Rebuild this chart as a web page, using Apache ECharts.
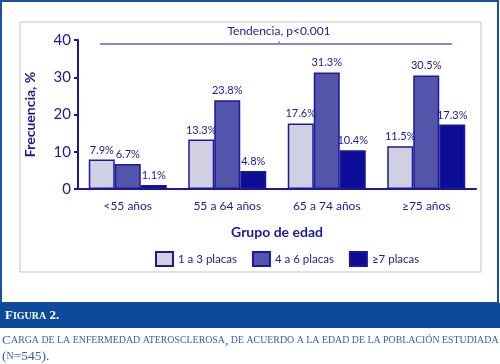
<!DOCTYPE html>
<html>
<head>
<meta charset="utf-8">
<script src="https://cdn.jsdelivr.net/npm/echarts@6/dist/echarts.min.js"></script>
<style>
  html, body { margin: 0; padding: 0; background: #fff; }
  #chart { width: 500px; height: 364px; }
</style>
</head>
<body>
<div id="chart"></div>
<script>
  var categories = ['<55 años', '55 a 64 años', '65 a 74 años', '≥75 años'];
  var seriesNames = ['1 a 3 placas', '4 a 6 placas', '≥7 placas'];
  var placas1a3 = [7.9, 13.3, 17.6, 11.5];
  var placas4a6 = [6.7, 23.8, 31.3, 30.5];
  var placas7 = [1.1, 4.8, 10.4, 17.3];
  var yTicks = [0, 10, 20, 30, 40];

  var txt = '#1a1a9a';
  var colors = ['#d0d0e2', '#5454aa', '#0c0c96'];
  var font = 'Lato, "Open Sans", sans-serif';
  var serif = '"Liberation Serif", "DejaVu Serif", serif';

  var myChart = echarts.init(document.getElementById('chart'));

  function bar(name, data, i) {
    return {
      name: name,
      type: 'bar',
      data: data,
      barWidth: 26,
      barGap: '0%',
      itemStyle: {
        color: colors[i],
        borderColor: txt,
        borderWidth: 1.5
      },
      label: {
        show: true,
        position: 'top',
        distance: 4,
        color: txt,
        fontFamily: font,
        fontSize: 11,
        formatter: '{c}%'
      }
    }
  }

  var option = {
    animation: false,
    grid: {
      left: 78,
      right: 24,
      top: 40,
      bottom: 175
    },
    legend: {
      data: seriesNames,
      icon: 'rect',
      left: 150,
      top: 246,
      itemWidth: 17,
      itemHeight: 14,
      itemGap: 15,
      textStyle: { color: txt, fontFamily: font, fontSize: 11.5 }
    },
    xAxis: {
      type: 'category',
      data: categories,
      name: 'Grupo de edad',
      nameLocation: 'middle',
      nameGap: 36,
      nameTextStyle: { color: txt, fontFamily: font, fontSize: 14, fontWeight: 'bold' },
      axisLine: { lineStyle: { color: txt, width: 2 } },
      axisTick: { show: false },
      axisLabel: { color: txt, fontFamily: font, fontSize: 12, margin: 11 }
    },
    yAxis: {
      type: 'value',
      min: yTicks[0],
      max: yTicks[yTicks.length - 1],
      interval: 10,
      name: 'Frecuencia, %',
      nameLocation: 'middle',
      nameGap: 41,
      nameTextStyle: { color: txt, fontFamily: font, fontSize: 14, fontWeight: 'bold' },
      axisLine: { show: true, lineStyle: { color: txt, width: 2 } },
      axisTick: { show: true, length: 4, lineStyle: { color: txt, width: 2 } },
      axisLabel: { color: txt, fontFamily: font, fontSize: 15, margin: 7 },
      splitLine: { show: false }
    },
    graphic: [
      // marco exterior
      { type: 'rect', shape: { x: 1, y: 1, width: 497, height: 302 }, style: { fill: 'none', stroke: '#1f4e9c', lineWidth: 2 }, silent: true },
      // recuadro gris
      { type: 'rect', shape: { x: 20, y: 22, width: 461, height: 250 }, style: { fill: 'none', stroke: '#c4c4c4', lineWidth: 1 }, silent: true },
      // tendencia
      { type: 'line', shape: { x1: 100, y1: 44, x2: 452, y2: 44 }, style: { stroke: '#6262c4', lineWidth: 1.5 }, silent: true },
      { type: 'line', shape: { x1: 279, y1: 41, x2: 279, y2: 44 }, style: { stroke: '#6262c4', lineWidth: 1 }, silent: true },
      { type: 'text', x: 279, y: 31, style: { text: 'Tendencia, p<0.001', fill: txt, font: '12px ' + font, align: 'center', verticalAlign: 'middle' }, silent: true },
      // banda de figura
      { type: 'rect', shape: { x: 0, y: 303, width: 500, height: 25 }, style: { fill: '#0d4a9c' }, silent: true },
      {
        type: 'text', x: 5, y: 316,
        style: {
          text: '{a|F}{b|IGURA}{a| 2.}',
          verticalAlign: 'middle',
          rich: {
            a: { fill: '#fff', fontFamily: serif, fontSize: 13, fontWeight: 'bold' },
            b: { fill: '#fff', fontFamily: serif, fontSize: 10, fontWeight: 'bold' }
          }
        },
        silent: true
      },
      {
        type: 'text', x: 2, y: 340,
        style: {
          text: '{a|C}{b|ARGA DE LA ENFERMEDAD ATEROSCLEROSA}{a|,}{b| DE ACUERDO A LA EDAD DE LA POBLACIÓN ESTUDIADA}',
          verticalAlign: 'middle',
          rich: {
            a: { fill: '#3a5fa4', fontFamily: serif, fontSize: 13.5 },
            b: { fill: '#3a5fa4', fontFamily: serif, fontSize: 9.9 }
          }
        },
        silent: true
      },
      {
        type: 'text', x: 2, y: 356,
        style: {
          text: '{a|(}{b|N}{a|=545).}',
          verticalAlign: 'middle',
          rich: {
            a: { fill: '#3a5fa4', fontFamily: serif, fontSize: 13.5 },
            b: { fill: '#3a5fa4', fontFamily: serif, fontSize: 9.9 }
          }
        },
        silent: true
      }
    ],
    series: [
      bar(seriesNames[0], placas1a3, 0),
      bar(seriesNames[1], placas4a6, 1),
      bar(seriesNames[2], placas7, 2)
    ]
  }
  myChart.setOption(option)
</script>
</body>
</html>
